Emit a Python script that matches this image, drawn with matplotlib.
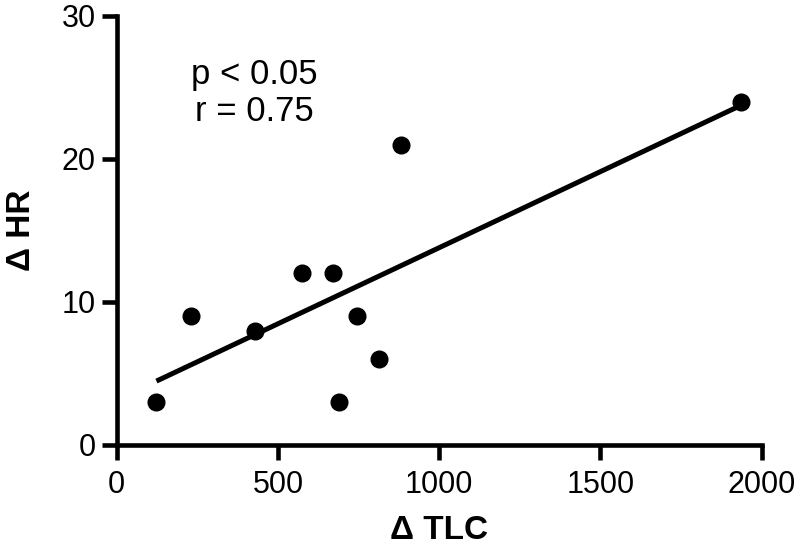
import numpy as np
import matplotlib
matplotlib.use("Agg")
import matplotlib.pyplot as plt

# Veri
delta_tlc = [123, 230, 430, 575, 670, 688, 745, 812, 883, 1935]
delta_hr = [3, 9, 8, 12, 12, 3, 9, 6, 21, 24]
x_ticks = [0, 500, 1000, 1500, 2000]
y_ticks = [0, 10, 20, 30]

plt.rcParams["font.family"] = ["Liberation Sans", "DejaVu Sans"]

fig = plt.figure(figsize=(8, 5.5), dpi=100)
ax = fig.add_axes([0.146, 0.191, 0.806, 0.780])

ax.plot(delta_tlc, delta_hr, "o", color="black", markersize=12, zorder=3)

# Regresyon doğrusu
slope, intercept = np.polyfit(delta_tlc, delta_hr, 1)
xs = np.array([min(delta_tlc), max(delta_tlc)])
ax.plot(xs, slope * xs + intercept, color="black", linewidth=3.6, solid_capstyle="butt")

ax.set_xlim(0, 2000)
ax.set_ylim(0, 30)
ax.set_xticks(x_ticks)
ax.set_yticks(y_ticks)
ax.set_xticklabels([str(t) for t in x_ticks], fontsize=22)
ax.set_yticklabels([str(t) for t in y_ticks], fontsize=22)

for side in ["top", "right"]:
    ax.spines[side].set_visible(False)
for side in ["left", "bottom"]:
    ax.spines[side].set_linewidth(3.3)
    ax.spines[side].set_capstyle("projecting")
ax.tick_params(direction="out", length=11, width=3.3)
ax.tick_params(axis="y", pad=4)
ax.tick_params(axis="x", pad=7)

ax.set_xlabel("Δ TLC", fontsize=24, fontweight="bold", labelpad=11)
ax.set_ylabel("Δ HR", fontsize=24, fontweight="bold", labelpad=18)

# İstatistik notu
ax.text(428, 24.6, "p < 0.05\nr = 0.75", ha="center", va="center",
        fontsize=25, linespacing=1.15)

fig.savefig("out.png", dpi=100)
